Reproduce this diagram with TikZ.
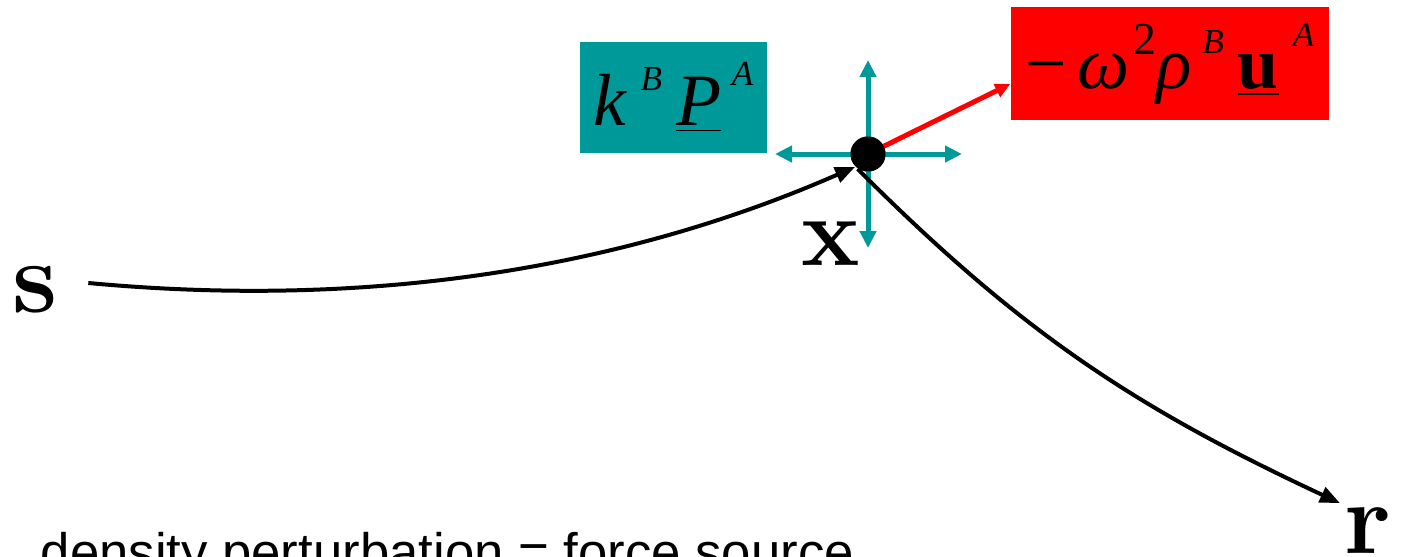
\documentclass[tikz,border=0pt]{standalone}
\usepackage{fontspec}
\newfontfamily\timesfont{Liberation Serif}
\newfontfamily\arialfont{Liberation Sans}
\usetikzlibrary{arrows.meta}
\definecolor{tealc}{RGB}{0,153,153}
% raised index, as in the old equation editor
\newcommand{\hiidx}[2][10pt]{\raisebox{#1}{\fontsize{10}{10}\selectfont\itshape #2}}

\begin{document}
\begin{tikzpicture}[
  every node/.style={inner sep=0pt},
  tealbox/.style={fill=tealc,minimum width=1.87cm,minimum height=1.11cm,font=\timesfont\fontsize{21}{24}\selectfont},
  redbox/.style={fill=red,minimum width=3.18cm,minimum height=1.13cm,font=\timesfont\fontsize{21}{24}\selectfont},
  pnt/.style={circle,fill=black,minimum size=0.35cm},
  lbl/.style={font=\bfseries\fontsize{29}{32}\selectfont},
  dirarrow/.style={draw=tealc,line width=0.05cm,-{Triangle[length=0.17cm,width=0.16cm]}},
  ray/.style={line width=0.04cm,-{Triangle[length=0.2cm,width=0.16cm]}}
]
\useasboundingbox (0,0) rectangle (14.01,5.56);
\node[tealbox] (kp) at (6.735,4.585) {\itshape k\hspace{4pt}\hiidx{B}\hspace{4pt}\underline{P}\hspace{3pt}\hiidx[11.5pt]{A}};
\node[redbox] (wu) at (11.70,4.925) {\char"2212\hspace{3pt}\itshape\char"03C9\hspace{1pt}\raisebox{9.5pt}{\upshape\fontsize{13}{13}\selectfont 2}\char"03C1\hspace{3pt}\hiidx{B}\hspace{4pt}\underline{\upshape\bfseries u}\hspace{4pt}\hiidx[12pt]{A}};
\node[pnt] (P) at (8.68,4.02) {};
\coordinate (Pl) at (7.75,4.02);
\coordinate (Pr) at (9.62,4.02);
\coordinate (Pt) at (8.68,4.96);
\coordinate (Pb) at (8.68,3.08);
\node[lbl] (s) at (0.35,2.66) {s};
\node[lbl,font=\bfseries\fontsize{28}{32}\selectfont] (x) at (8.31,3.12) {x};
\node[lbl,anchor=base west,outer sep=0.04cm] (r) at (13.40,0.03) {r};
\node[anchor=base west,font=\arialfont\fontsize{15}{17}\selectfont] (cap) at (0.40,-0.14) {density perturbation = force source};

\draw[dirarrow] (P.center) -- (Pl);
\draw[dirarrow] (P.center) -- (Pr);
\draw[dirarrow] (P.center) -- (Pt);
\draw[dirarrow] (P.center) -- (Pb);
\draw[red,line width=0.05cm,-{Triangle[length=0.15cm,width=0.14cm]}] (P.center) -- (wu.west |- 0,4.72);
\node[pnt] at (P) {};
\draw[ray] ([xshift=0.3cm,yshift=0.07cm]s.east) .. controls (3.9,2.45) and (6.4,2.95) .. (P.225);
\draw[ray] (P.235) to[out=-45,in=155] (r.north west);
\end{tikzpicture}
\end{document}
